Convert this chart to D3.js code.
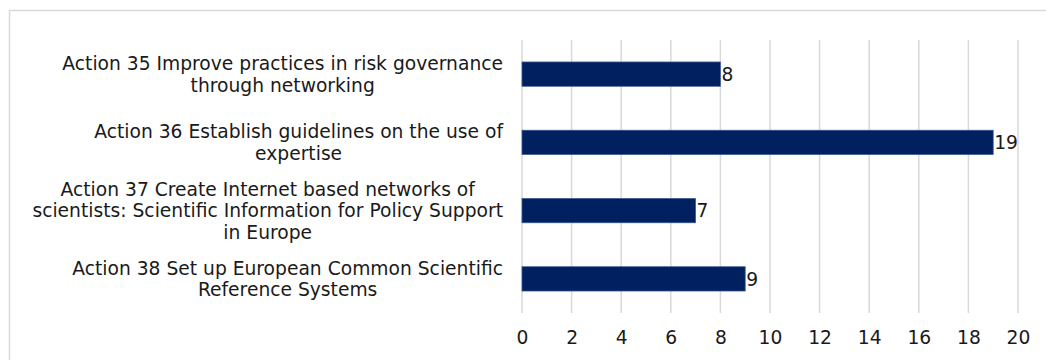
<!DOCTYPE html>
<html>
<head>
<meta charset="utf-8">
<script src="https://cdn.jsdelivr.net/npm/d3@7"></script>
<style>
  body { margin: 0; background: #fff; }
  svg { display: block; font-family: "DejaVu Sans", Verdana, sans-serif; }
</style>
</head>
<body>
<svg id="chart"></svg>
<script>
// categories, one entry per bar, already split into the lines they wrap to
const categories = [
  ['Action 35 Improve practices in risk governance', 'through networking'],
  ['Action 36 Establish guidelines on the use of', 'expertise'],
  ['Action 37 Create Internet based networks of', 'scientists: Scientific Information for Policy Support', 'in Europe'],
  ['Action 38 Set up European Common Scientific', 'Reference Systems']
]
const values = [8, 19, 7, 9]
const xTicks = [0, 2, 4, 6, 8, 10, 12, 14, 16, 18, 20]

const width = 1046, height = 360
const margin = { top: 40, right: 28, bottom: 47, left: 522 }
const w = width - margin.left - margin.right
const h = height - margin.top - margin.bottom
const fontSize = 18.7

const svg = d3.select('#chart').attr('width', width).attr('height', height)

// chart area border (runs off the right and bottom of the picture)
svg.append('rect')
  .attr('x', 9.5).attr('y', 10.5)
  .attr('width', 1060).attr('height', 400)
  .attr('fill', 'none')
  .attr('stroke', '#d9d9d9')
  .attr('stroke-width', 1.5)

const g = svg.append('g').attr('transform', `translate(${margin.left},${margin.top})`)

const x = d3.scaleLinear().domain([0, 20]).range([0, w])
const y = d3.scaleBand().domain(d3.range(values.length)).range([0, h]).paddingInner(0.644).paddingOuter(0.322)

// vertical gridlines
g.append('g')
  .selectAll('line')
  .data(xTicks)
  .enter().append('line')
  .attr('x1', d => x(d)).attr('x2', d => x(d))
  .attr('y1', 0).attr('y2', h)
  .attr('stroke', '#d9d9d9')
  .attr('stroke-width', 1.5)

// x axis labels
const xAxis = g.append('g')
  .attr('transform', `translate(0,${h})`)
  .call(d3.axisBottom(x).tickValues(xTicks).tickSize(0).tickPadding(18))
xAxis.select('.domain').remove()
xAxis.selectAll('text')
  .attr('font-family', '"DejaVu Sans", Verdana, sans-serif')
  .attr('font-size', fontSize)
  .attr('fill', '#1a1a1a')

// bars
g.selectAll('.bar')
  .data(values)
  .enter().append('rect')
  .attr('class', 'bar')
  .attr('x', x(0))
  .attr('y', (d, i) => y(i))
  .attr('width', d => x(d) - x(0))
  .attr('height', y.bandwidth())
  .attr('fill', '#002060')
  .attr('stroke', '#3a5a94')
  .attr('stroke-width', 0.75)

// value labels
g.selectAll('.val')
  .data(values)
  .enter().append('text')
  .attr('class', 'val')
  .attr('x', d => x(d) + 1)
  .attr('y', (d, i) => y(i) + y.bandwidth() / 2)
  .attr('dy', '0.36em')
  .attr('font-size', fontSize)
  .attr('fill', '#1a1a1a')
  .text(d => d)

// category labels: block right-aligned to the axis, lines centred in the block
const lineH = 21.7
const labelRight = -19
categories.forEach((lines, i) => {
  const t = g.append('text')
    .attr('font-size', fontSize)
    .attr('fill', '#1a1a1a')
    .attr('text-anchor', 'middle')
  const cy = y(i) + y.bandwidth() / 2
  const top = cy - (lines.length - 1) * lineH / 2
  const spans = lines.map((s, k) => t.append('tspan')
    .attr('y', top + k * lineH)
    .attr('dy', '0.36em')
    .text(s))
  const maxW = d3.max(spans, s => s.node().getComputedTextLength())
  spans.forEach(s => s.attr('x', labelRight - maxW / 2))
})
</script>
</body>
</html>
